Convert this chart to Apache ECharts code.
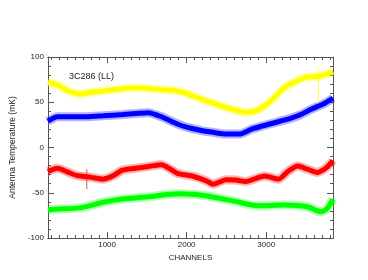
<!DOCTYPE html>
<html><head><meta charset="utf-8">
<script src="https://cdn.jsdelivr.net/npm/echarts@6/dist/echarts.min.js"></script>
<style>html,body{margin:0;padding:0;background:#fff}#c{width:368px;height:280px}</style>
</head><body><div id="c"></div>
<script>
const title = '3C286 (LL)';
const xName = 'CHANNELS';
const yName = 'Antenna Temperature (mK)';
const xMajorTicks = [1000, 2000, 3000];
const xMinorTicks = [300,400,500,600,700,800,900,1000,1100,1200,1300,1400,1500,1600,1700,1800,1900,2000,2100,2200,2300,2400,2500,2600,2700,2800,2900,3000,3100,3200,3300,3400,3500,3600,3700,3800];
const yellow = [[256,72],[380,69],[500,63],[660,59],[800,61],[1000,63],[1200,65],[1357,66],[1600,64.5],[1883,62.5],[2050,58],[2250,51.5],[2500,44],[2740,39],[2850,40],[2983,46],[3100,55],[3228,66],[3350,72],[3473,77],[3680,79],[3840,84]];
const yellowSpike = [[3656,48],[3656,88]];
const blue = [[256,29],[378,34],[745,34],[949,35],[1200,36.5],[1357,37.6],[1516,38.5],[1683,34],[1883,26],[2000,22.5],[2172,19],[2350,16.5],[2495,14.8],[2662,14.8],[2824,20.5],[3069,26.5],[3314,32.5],[3450,37],[3558,42],[3717,48],[3840,54.5]];
const red = [[256,-26.5],[378,-23],[500,-27],[623,-31],[800,-33],[949,-35],[1080,-31],[1194,-25],[1357,-23],[1520,-21],[1683,-19],[1800,-24],[1883,-28.5],[2090,-32],[2250,-37],[2335,-40.5],[2495,-35.5],[2620,-36],[2739,-37.5],[2983,-31.5],[3151,-35],[3280,-26],[3396,-20.5],[3520,-24],[3640,-27.5],[3760,-22],[3840,-14.5]];
const redSpike = [[745,-24],[745,-46]];
const green = [[256,-69],[400,-68],[623,-67],[780,-64.5],[949,-60.5],[1194,-57],[1516,-54.5],[1750,-52],[1928,-51],[2100,-52],[2250,-53.5],[2580,-59],[2906,-64.5],[3228,-63.5],[3518,-65.5],[3680,-71],[3760,-68],[3840,-57]];

const chart = echarts.init(document.getElementById('c'));
const FONT = 'Liberation Sans';
const axisLine = {show:true, onZero:false, lineStyle:{color:'#555', width:1}};
function lineSeries(data, color){
  return [
    {type:'line', data, smooth:0.25, symbol:'none', silent:true, clip:true, lineStyle:{color, width:9, opacity:0.3, cap:'butt'}, z:2},
    {type:'line', data, smooth:0.25, symbol:'none', silent:true, clip:true, lineStyle:{color, width:5, cap:'butt'}, z:3}
  ];
}
function spike(data, color){
  return {type:'line', data, symbol:'none', silent:true, lineStyle:{color, width:1, opacity:0.7}, z:3};
}
const fmt = v => String(v);
chart.setOption({
  animation:false,
  title:{text:title, left:64, top:67, textStyle:{fontFamily:FONT, fontSize:9, fontWeight:'normal', color:'#222'}},
  grid:{left:40, right:35, top:57, bottom:42},
  xAxis:[
    {type:'value', min:256, max:3840, position:'bottom', axisLine,
     axisTick:{show:true, inside:true, length:6, customValues:xMajorTicks, lineStyle:{color:'#555'}},
     axisLabel:{customValues:xMajorTicks, formatter:fmt, fontFamily:FONT, fontSize:8, color:'#222', margin:3},
     splitLine:{show:false},
     name:xName, nameLocation:'middle', nameGap:11, nameTextStyle:{fontFamily:FONT, fontSize:8, color:'#222'}},
    {type:'value', min:256, max:3840, position:'bottom', axisLine,
     axisTick:{show:true, inside:true, length:3, customValues:xMinorTicks, lineStyle:{color:'#555'}},
     axisLabel:{show:false}, splitLine:{show:false}},
    {type:'value', min:256, max:3840, position:'top', axisLine,
     axisTick:{show:true, inside:true, length:6, customValues:xMajorTicks, lineStyle:{color:'#555'}},
     axisLabel:{show:false}, splitLine:{show:false}},
    {type:'value', min:256, max:3840, position:'top', axisLine,
     axisTick:{show:true, inside:true, length:3, customValues:xMinorTicks, lineStyle:{color:'#555'}},
     axisLabel:{show:false}, splitLine:{show:false}}
  ],
  yAxis:[
    {type:'value', min:-100, max:100, interval:50, position:'left', axisLine,
     axisTick:{show:true, inside:true, length:6, lineStyle:{color:'#555'}},
     minorTick:{show:true, splitNumber:5, length:3, lineStyle:{color:'#555'}},
     axisLabel:{fontFamily:FONT, fontSize:8, color:'#222', margin:4},
     splitLine:{show:false},
     name:yName, nameLocation:'middle', nameGap:24, nameTextStyle:{fontFamily:FONT, fontSize:8.5, color:'#222'}},
    {type:'value', min:-100, max:100, interval:50, position:'right', axisLine,
     axisTick:{show:true, inside:true, length:6, lineStyle:{color:'#555'}},
     minorTick:{show:true, splitNumber:5, length:3, lineStyle:{color:'#555'}},
     axisLabel:{show:false}, splitLine:{show:false}}
  ],
  series:[
    ...lineSeries(yellow, '#ffff00'),
    spike(yellowSpike, '#ffff00'),
    ...lineSeries(blue, '#0000ff'),
    ...lineSeries(red, '#ff0000'),
    spike(redSpike, '#ff0000'),
    ...lineSeries(green, '#00ff00')
  ]
});
</script></body></html>
